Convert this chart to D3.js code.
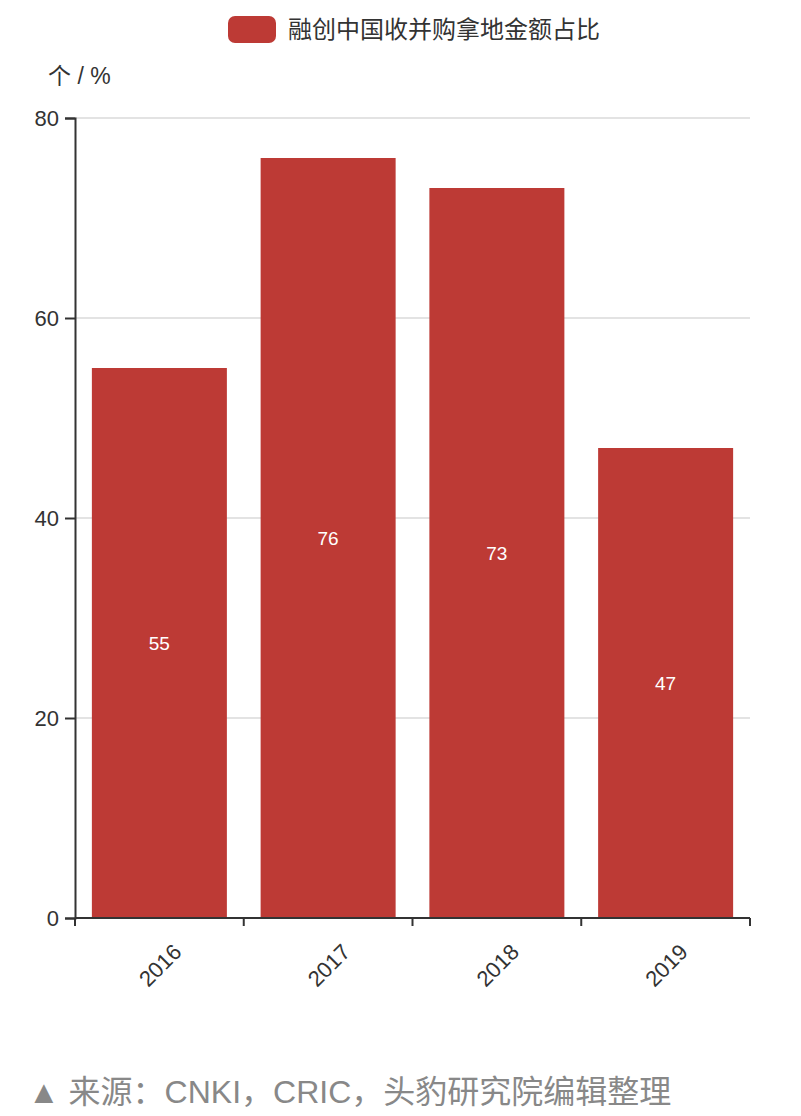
<!DOCTYPE html>
<html><head><meta charset="utf-8">
<script src="https://cdn.jsdelivr.net/npm/d3@7"></script>
<style>body{margin:0;background:#fff}svg{display:block}</style>
</head><body>
<svg id="c" width="801" height="1116"></svg>
<script>
const categories = ["2016","2017","2018","2019"];
const values = [55,76,73,47];
const yTicks = [0,20,40,60,80];
const seriesName = "融创中国收并购拿地金额占比";
const yLabel = "个 / %";
const source = "▲ 来源：CNKI，CRIC，头豹研究院编辑整理";

const font = "'Liberation Sans','Noto Sans CJK SC',sans-serif";
const svg = d3.select("#c");
const m = {l:75, r:750, t:118, b:918};
const x = d3.scaleBand().domain(categories).range([m.l, m.r]).paddingInner(0.2).paddingOuter(0.1);
const y = d3.scaleLinear().domain([0,80]).range([m.b, m.t]);
const color = "#bd3a35";

// gridlines
svg.append("g").selectAll("line").data(yTicks.filter(d=>d>0)).join("line")
  .attr("x1", m.l).attr("x2", m.r).attr("y1", d=>y(d)).attr("y2", d=>y(d))
  .attr("stroke", "#c8c8c8").attr("stroke-width", 1.2);

// bars
svg.append("g").selectAll("rect").data(values).join("rect")
  .attr("x", (d,i)=>x(categories[i])).attr("width", x.bandwidth())
  .attr("y", d=>y(d)).attr("height", d=>y(0)-y(d)).attr("fill", color);

// labels
svg.append("g").selectAll("text").data(values).join("text")
  .attr("x", (d,i)=>x(categories[i])+x.bandwidth()/2).attr("y", d=>y(d/2)+7)
  .attr("text-anchor","middle").attr("fill","#fff").attr("font-size",19)
  .attr("font-family", font).text(d=>d);

// y axis
const ya = svg.append("g").attr("transform",`translate(${m.l},0)`)
  .call(d3.axisLeft(y).tickValues(yTicks).tickSize(10).tickPadding(6));
ya.select(".domain").attr("stroke","#333").attr("stroke-width",2);
ya.selectAll(".tick line").attr("stroke","#333").attr("stroke-width",2);
ya.selectAll(".tick text").attr("font-size",22).attr("fill","#333").attr("font-family",font).attr("dy","0.35em");

// x axis
const xb = d3.scaleLinear().domain([0,categories.length]).range([m.l,m.r]);
const xa = svg.append("g").attr("transform",`translate(0,${m.b})`);
xa.append("line").attr("x1",m.l).attr("x2",m.r).attr("stroke","#333").attr("stroke-width",2);
xa.selectAll("line.t").data(d3.range(categories.length+1)).join("line").attr("class","t")
  .attr("x1",d=>xb(d)).attr("x2",d=>xb(d)).attr("y1",0).attr("y2",8)
  .attr("stroke","#333").attr("stroke-width",2);
xa.selectAll("text").data(categories).join("text")
  .attr("transform", d=>`translate(${x(d)+x.bandwidth()/2+18},${30}) rotate(-45)`)
  .attr("text-anchor","end").attr("dy","0.35em")
  .attr("font-size",22).attr("fill","#333").attr("font-family",font).text(d=>d);

// y label
svg.append("text").attr("x",48).attr("y",84).attr("font-size",23).attr("fill","#333")
  .attr("font-family",font).text(yLabel);

// legend
svg.append("rect").attr("x",228).attr("y",16).attr("width",48).attr("height",27).attr("rx",7)
  .attr("fill",color);
svg.append("text").attr("x",288).attr("y",38).attr("font-size",24).attr("fill","#333")
  .attr("font-family",font).text(seriesName);

// source
svg.append("text").attr("x",28).attr("y",1103).attr("font-size",32).attr("fill","#888")
  .attr("font-family",font).text(source);
</script>
</body></html>
